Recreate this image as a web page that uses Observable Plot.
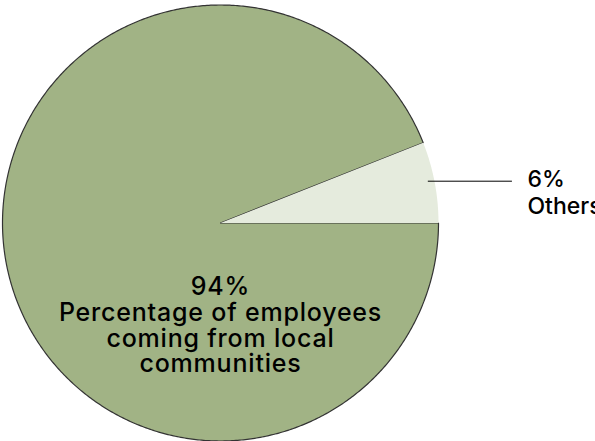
<!DOCTYPE html>
<html>
<head>
<meta charset="utf-8">
<script src="https://cdn.jsdelivr.net/npm/d3@7"></script>
<script src="https://cdn.jsdelivr.net/npm/@observablehq/plot@0.6"></script>
<style>
  html, body { margin: 0; padding: 0; background: #fff; }
</style>
</head>
<body>
<div id="chart"></div>
<script>
// Data
const categories = ["Others", "Percentage of employees coming from local communities"];
const values = [6, 94];
const percentLabels = ["6%", "94%"];
const nameLabels = ["Others", "Percentage of employees\ncoming from local\ncommunities"];
const colors = ["#e5ebdd", "#a1b385"];

// Geometry (styles)
const W = 595, H = 441;
const R = 218, CX = 220, CY = 222.5;

const total = d3.sum(values);
let acc = 0;
const slices = values.map((v, i) => {
  const a0 = acc / total * 2 * Math.PI;
  acc += v;
  const a1 = acc / total * 2 * Math.PI;
  return {cat: categories[i], a0, a1, mid: (a0 + a1) / 2, i};
});

const pts = [];
slices.forEach(s => {
  pts.push({cat: s.cat, x: 0, y: 0});
  const n = Math.max(4, Math.ceil((s.a1 - s.a0) / (Math.PI / 360)));
  for (let k = 0; k <= n; k++) {
    const a = s.a0 + (s.a1 - s.a0) * k / n;
    pts.push({cat: s.cat, x: Math.cos(a), y: Math.sin(a)});
  }
  pts.push({cat: s.cat, x: 0, y: 0});
});

const small = slices[0];
const ly = 0.97 * Math.sin(small.mid) + 0.01;
const leader = [
  {x: 0.97 * Math.cos(small.mid), y: ly},
  {x: 1.335, y: ly}
];
const smallLabel = [{x: 1.408, y: ly - 0.048, text: percentLabels[0] + "\n" + nameLabels[0]}];
const bigLabel = [{x: 0, y: -0.47, text: percentLabels[1] + "\n" + nameLabels[1]}];

const chart = Plot.plot({
  width: W,
  height: H,
  margin: 0,
  style: {background: "white", fontFamily: "Inter, 'Liberation Sans', Arial, sans-serif"},
  x: {domain: [-CX / R, (W - CX) / R], axis: null},
  y: {domain: [-(H - CY) / R, CY / R], axis: null},
  marks: [
    Plot.line(pts.filter(d => d.cat === categories[1]), {x: "x", y: "y", fill: colors[1], stroke: "#333", strokeWidth: 1.2, curve: "linear"}),
    Plot.line(pts.filter(d => d.cat === categories[0]), {x: "x", y: "y", fill: colors[0], stroke: "none", curve: "linear"}),
    Plot.line(leader, {x: "x", y: "y", stroke: "#000", strokeWidth: 1}),
    Plot.text(smallLabel, {x: "x", y: "y", text: "text", textAnchor: "start", lineAnchor: "middle", fontSize: 23, fontWeight: 500, lineHeight: 1.17, fill: "#000", className: "small-label"}),
    Plot.text(bigLabel, {x: "x", y: "y", text: "text", textAnchor: "middle", lineAnchor: "middle", fontSize: 25, fontWeight: 500, lineHeight: 1.03, fill: "#000", className: "big-label"})
  ]
});
chart.querySelectorAll(".big-label text").forEach(t => { t.style.letterSpacing = "0.8px"; });
document.getElementById("chart").appendChild(chart);
</script>
</body>
</html>
